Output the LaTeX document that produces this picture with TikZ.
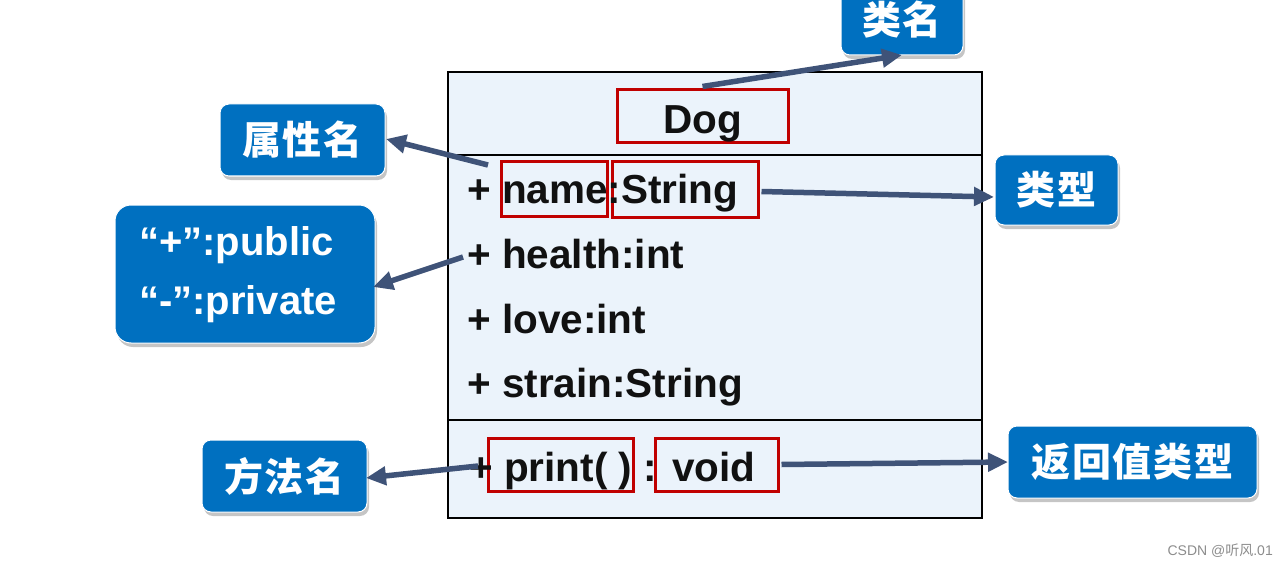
\documentclass[tikz,border=0pt]{standalone}
\usepackage{fontspec}
\setmainfont{Liberation Sans}
\newfontfamily\cjk{Noto Sans CJK SC}[LetterSpace=5]
\newfontfamily\cjkwm{Noto Sans CJK SC}
\usetikzlibrary{arrows.meta,shadows}
\definecolor{calloutblue}{HTML}{0070C0}
\definecolor{arrowc}{HTML}{3F5378}
\definecolor{boxfill}{HTML}{EBF3FB}
\definecolor{redbox}{HTML}{C00000}
\definecolor{txt}{HTML}{111111}
\tikzset{
  callout/.style={fill=calloutblue, draw=white, line width=1pt, rounded corners=9pt,
    drop shadow={shadow xshift=2pt, shadow yshift=-4pt, fill=black!45, opacity=0.5},
    text=white, font=\cjk\bfseries\fontsize{39}{44}\selectfont, inner sep=0pt},
  redrect/.style={draw=redbox, line width=3pt, inner sep=0pt},
  uml/.style={text=txt, font=\bfseries\fontsize{40.5}{44}\selectfont, inner sep=0pt},
  conn/.style={draw=arrowc, line width=5.5pt, -{Triangle[length=20pt,width=18pt]}},
}
\begin{document}
\begin{tikzpicture}[x=1pt,y=-1pt]
\useasboundingbox (0,0) rectangle (1288,567);
% class box
\draw[fill=boxfill, line width=2.5pt] (448,72) rectangle (982,518);
\draw[line width=2.5pt] (448,155) -- (982,155);
\draw[line width=2.5pt] (448,420) -- (982,420);
% red boxes
\node[redrect, minimum width=171pt, minimum height=53pt] (rDog) at (702.5,116.5) {};
\node[redrect, minimum width=106pt, minimum height=54pt] (rName) at (554,189) {};
\node[redrect, minimum width=146pt, minimum height=55pt] (rString) at (685,189.5) {};
\node[redrect, minimum width=145pt, minimum height=53pt] (rPrint) at (560.5,464.5) {};
\node[redrect, minimum width=123pt, minimum height=53pt] (rVoid) at (716.5,464.5) {};
% texts
\node[uml, anchor=base] (tDog) at (703,134) {Dog};
\node[uml, anchor=base west] (a1) at (467,204) {+ name:String};
\node[uml, anchor=base west] (a2) at (467,268) {+ health:int};
\node[uml, anchor=base west] (a3) at (467,333) {+ love:int};
\node[uml, anchor=base west] (a4) at (467,397) {+ strain:String};
\node[uml, anchor=base west] (m1) at (469,481) {+ print( ) : void};
% callouts
\node[callout, minimum width=122pt, minimum height=70pt] (cLei) at (902,20) {类名};
\node[callout, minimum width=165pt, minimum height=72pt] (cAttr) at (302.5,140) {属性名};
\node[callout, minimum width=260pt, minimum height=138pt, rounded corners=16pt] (cVis) at (245,274) {};
\node[text=white, font=\bfseries\fontsize{40}{59}\selectfont, align=left, inner sep=0pt, anchor=west] (tVis) at (139,275) {“+”:public\\“-”:private};
\node[callout, minimum width=123pt, minimum height=70pt] (cType) at (1056.5,190) {类型};
\node[callout, minimum width=165pt, minimum height=72pt] (cMeth) at (284.5,476) {方法名};
\node[callout, minimum width=249pt, minimum height=72pt] (cRet) at (1132.5,462) {返回值类型};
% connectors
\coordinate (s1) at (488,165);
\coordinate (s2) at (463,257);
\coordinate (s3) at (478,466);
\coordinate (e0) at (902,55);
\coordinate (e1) at (386,139);
\coordinate (e2) at (373,287);
\coordinate (e3) at (366,478);
\coordinate (e4) at (994,197);
\coordinate (e5) at (1008,462);
\draw[conn] (rDog.north) ++(0,-2) -- (e0);
\draw[conn] (s1) -- (e1);
\draw[conn] (s2) -- (e2);
\draw[conn] (s3) -- (e3);
\draw[conn] (rString.east) ++(2,2) -- (e4);
\draw[conn] (rVoid.east) ++(2,0) -- (e5);
% watermark
\node[text=black!45, font=\fontsize{14}{16}\selectfont, anchor=east, inner sep=0pt] (wm) at (1273,551) {CSDN @{\cjkwm 听风}.01};
\end{tikzpicture}
\end{document}
